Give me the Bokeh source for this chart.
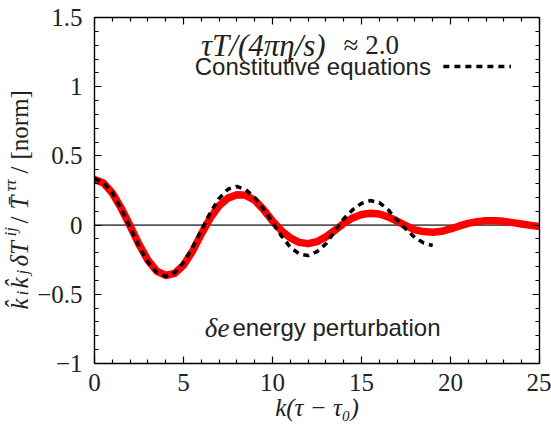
from bokeh.plotting import figure
from bokeh.models import Range1d, FixedTicker, LinearAxis, Label, Span
from bokeh.layouts import row
from bokeh.core.properties import value
from bokeh.embed import file_html
from bokeh.resources import INLINE
from math import pi

# ---------------- data ----------------
k_red = [0.0, 0.5, 1.0, 1.5, 2.0, 2.5, 3.0, 3.5, 4.0, 4.5, 5.0, 5.5, 6.0, 6.5,
         7.0, 7.5, 8.0, 8.5, 9.0, 9.5, 10.0, 10.5, 11.0, 11.5, 12.0, 12.5, 13.0,
         13.5, 14.0, 14.5, 15.0, 15.5, 16.0, 16.5, 17.0, 17.5, 18.0, 18.5, 19.0,
         19.5, 20.0, 20.5, 21.0, 21.5, 22.0, 22.5, 23.0, 23.5, 24.0, 24.5, 25.0]
y_red = [0.330, 0.304, 0.232, 0.122, -0.005, -0.140, -0.253, -0.332, -0.364,
         -0.349, -0.290, -0.190, -0.065, 0.050, 0.140, 0.195, 0.219, 0.215,
         0.180, 0.112, 0.030, -0.040, -0.092, -0.125, -0.134, -0.120, -0.085,
         -0.038, 0.012, 0.052, 0.077, 0.086, 0.080, 0.060, 0.028, -0.005,
         -0.034, -0.047, -0.051, -0.045, -0.028, -0.006, 0.012, 0.025, 0.031,
         0.032, 0.027, 0.018, 0.008, -0.002, -0.010]

k_const = [0.0, 0.5, 1.0, 1.5, 2.0, 2.5, 3.0, 3.5, 4.0, 4.5, 5.0, 5.5, 6.0, 6.5,
           7.0, 7.5, 8.0, 8.5, 9.0, 9.5, 10.0, 10.5, 11.0, 11.5, 12.0, 12.5,
           13.0, 13.5, 14.0, 14.5, 15.0, 15.5, 16.0, 16.5, 17.0, 17.5, 18.0,
           18.5, 19.0]
y_const = [0.335, 0.308, 0.232, 0.117, -0.018, -0.152, -0.267, -0.343, -0.370,
           -0.344, -0.272, -0.164, -0.040, 0.088, 0.192, 0.260, 0.279, 0.256,
           0.198, 0.115, 0.020, -0.078, -0.160, -0.208, -0.220, -0.192, -0.135,
           -0.045, 0.045, 0.110, 0.157, 0.177, 0.163, 0.110, 0.035, -0.030,
           -0.090, -0.130, -0.148]

x_major = [0, 5, 10, 15, 20, 25]
x_minor = [1, 2, 3, 4, 6, 7, 8, 9, 11, 12, 13, 14, 16, 17, 18, 19, 21, 22, 23, 24]
y_major = [-1, -0.5, 0, 0.5, 1, 1.5]
y_minor = [-0.9, -0.8, -0.7, -0.6, -0.4, -0.3, -0.2, -0.1, 0.1, 0.2, 0.3, 0.4,
           0.6, 0.7, 0.8, 0.9, 1.1, 1.2, 1.3, 1.4]
y_tick_text = {-1: "\u22121", -0.5: "\u22120.5", 0: "0", 0.5: "0.5", 1: "1", 1.5: "1.5"}

SERIF = "Liberation Serif"
SANS = "Liberation Sans"
TXT = "#222222"

# ---------------- layout constants (pixels) ----------------
H = 433
LEFT_W = 34                     # narrow panel holding the y-axis title
TOP, BOTTOM = 17, 70            # frame top / bottom borders
PX_PER_Y = (H - TOP - BOTTOM) / 2.5

# ---------------- main plot ----------------
p = figure(width=551 - LEFT_W, height=H, x_range=Range1d(0, 25), y_range=Range1d(-1, 1.5),
           output_backend="svg", toolbar_location=None,
           min_border_left=59, min_border_right=12, min_border_top=TOP, min_border_bottom=BOTTOM)
p.xgrid.visible = False
p.ygrid.visible = False
p.outline_line_color = None

p.add_layout(LinearAxis(), "above")
p.add_layout(LinearAxis(), "right")

for ax in p.xaxis:
    ax.ticker = FixedTicker(ticks=x_major, minor_ticks=x_minor)
for ax in p.yaxis:
    ax.ticker = FixedTicker(ticks=y_major, minor_ticks=y_minor)

for ax in p.xaxis + p.yaxis:
    ax.major_tick_in = 7
    ax.major_tick_out = 0
    ax.minor_tick_in = 4
    ax.minor_tick_out = 0
    ax.axis_line_color = "black"
    ax.axis_line_width = 1.4
    ax.major_tick_line_color = "black"
    ax.minor_tick_line_color = "black"
    ax.major_tick_line_width = 1.2
    ax.minor_tick_line_width = 1.2
    ax.major_label_text_font = SERIF
    ax.major_label_text_font_size = "25px"
    ax.major_label_text_color = TXT

bx = p.below[0]
bx.major_label_standoff = 10
bx.major_label_overrides = {v: str(v) for v in x_major}
bx.axis_label = "k(\u03c4 \u2212 \u03c4\u2080)"
bx.axis_label_text_font = SERIF
bx.axis_label_text_font_style = "italic"
bx.axis_label_text_font_size = "25px"
bx.axis_label_text_color = TXT
bx.axis_label_standoff = 0

ly = p.left[0]
ly.major_label_standoff = 12
ly.major_label_overrides = y_tick_text

# mirror axes: ticks only
for ax in (p.above[0], p.right[0]):
    ax.major_label_text_font_size = "1px"
    ax.major_label_text_color = None
    ax.major_label_standoff = 0

# zero line
p.add_layout(Span(location=0, dimension="width", line_color="#555555",
                  line_width=1.6, level="underlay"))

# curves
p.line(k_red, y_red, line_color="#ff0000", line_width=7.5, line_join="round", line_cap="round")
p.line(k_const, y_const, line_color="black", line_width=3.6, line_dash="6 5")

# legend-like key (gnuplot style: text then sample)
p.add_layout(Label(x=18.9, y=1.146, text="Constitutive equations", text_font=SANS,
                   text_font_size="24px", text_color=TXT, text_align="right",
                   text_baseline="middle"))
p.line([19.6, 23.4], [1.146, 1.146], line_color="black", line_width=3.6, line_dash="6 5")

# parameter text
p.add_layout(Label(x=5.98, y=1.298, text="\u03c4T/(4\u03c0\u03b7/s)", text_font=SERIF,
                   text_font_style="italic", text_font_size="31px", text_color=TXT,
                   text_align="left", text_baseline="middle"))
p.add_layout(Label(x=17.1, y=1.298, text="\u2248 2.0", text_font=SERIF,
                   text_font_size="27px", text_color=TXT,
                   text_align="right", text_baseline="middle"))

# bottom text
p.add_layout(Label(x=6.2, y=-0.74, text="\u03b4e", text_font=SERIF,
                   text_font_style="italic", text_font_size="27px", text_color=TXT,
                   text_align="left", text_baseline="middle"))
p.add_layout(Label(x=19.44, y=-0.74, text="energy perturbation", text_font=SANS,
                   text_font_size="24px", text_color=TXT,
                   text_align="right", text_baseline="middle"))

# ---------------- left panel: y-axis title (frame aligned with main plot) ----------------
pl = figure(width=LEFT_W, height=H, x_range=Range1d(0, LEFT_W), y_range=Range1d(-1, 1.5),
            output_backend="svg", toolbar_location=None,
            x_axis_location=None, y_axis_location=None,
            min_border_left=0, min_border_right=0, min_border_top=TOP, min_border_bottom=BOTTOM)
pl.xgrid.visible = False
pl.ygrid.visible = False
pl.outline_line_color = None

pieces = [("k\u0302", "main", "italic", 14),
          ("i", "sub", "italic", 7),
          ("k\u0302", "main", "italic", 14),
          ("j", "sub", "italic", 8),
          ("\u03b4T", "main", "italic", 30),
          ("ij", "sup", "italic", 13),
          ("/", "main", "normal", 14),
          ("T\u0304", "main", "italic", 18),
          ("\u03c4\u03c4", "sup", "italic", 18),
          ("/", "main", "normal", 14),
          ("[norm]", "main", "normal", 75)]
base_x = {"main": 18.5, "sub": 22.0, "sup": 10.0}
size = {"main": "25px", "sub": "17px", "sup": "17px"}
cy = 309.0  # canvas y where the title starts (its lower end)
for txt, kind, style, w in pieces:
    ydata = (H - BOTTOM - cy) / PX_PER_Y - 1
    pl.text(x=[base_x[kind]], y=[ydata], text=[txt], angle=pi / 2,
            text_font=value(SERIF), text_font_style=style, text_font_size=size[kind],
            text_color=TXT, text_align="left", text_baseline="alphabetic")
    cy -= w

open("out.html", "w").write(file_html(row(pl, p), INLINE))
